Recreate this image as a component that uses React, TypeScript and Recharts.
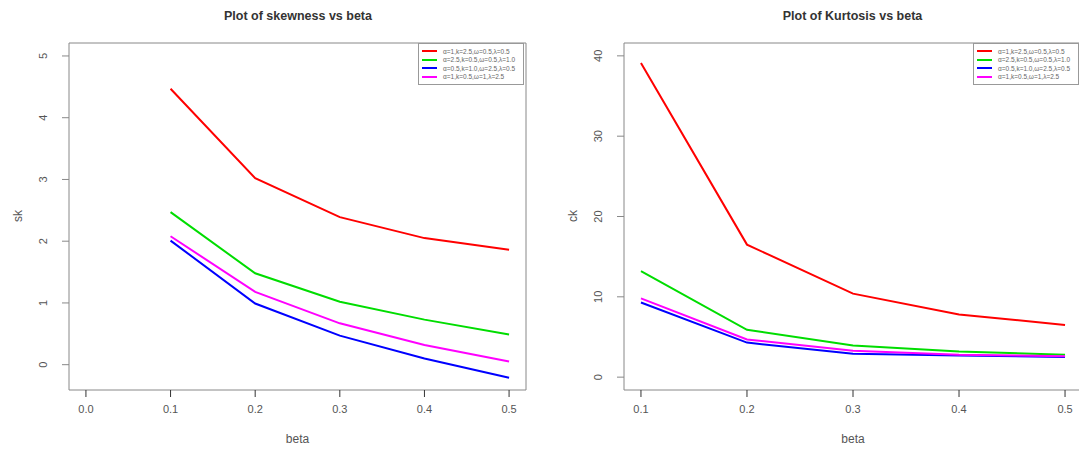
import { LineChart, Line, XAxis, YAxis, ReferenceArea, Legend, Label } from 'recharts';

const beta = [0.1, 0.2, 0.3, 0.4, 0.5];

const legendNames = [
  'α=1,k=2.5,ω=0.5,λ=0.5',
  'α=2.5,k=0.5,ω=0.5,λ=1.0',
  'α=0.5,k=1.0,ω=2.5,λ=0.5',
  'α=1,k=0.5,ω=1,λ=2.5',
];
const colors = ['#ff0000', '#00dd00', '#0000ff', '#ff00ff'];

// skewness
const skS1 = [4.47, 3.02, 2.39, 2.05, 1.86];
const skS2 = [2.47, 1.48, 1.02, 0.73, 0.49];
const skS3 = [2.01, 0.99, 0.47, 0.1, -0.21];
const skS4 = [2.08, 1.18, 0.67, 0.32, 0.05];

// kurtosis
const ckS1 = [39.1, 16.5, 10.4, 7.8, 6.5];
const ckS2 = [13.2, 5.9, 3.95, 3.2, 2.8];
const ckS3 = [9.3, 4.3, 2.9, 2.7, 2.5];
const ckS4 = [9.8, 4.7, 3.3, 2.8, 2.6];

const skTicksX = [0, 0.1, 0.2, 0.3, 0.4, 0.5];
const skTicksY = [0, 1, 2, 3, 4, 5];
const ckTicksX = [0.1, 0.2, 0.3, 0.4, 0.5];
const ckTicksY = [0, 10, 20, 30, 40];

const FONT = 'Liberation Sans, Arial, sans-serif';

function rows(series: number[][]) {
  return beta.map((b, i) => ({
    beta: b, s1: series[0][i], s2: series[1][i], s3: series[2][i], s4: series[3][i],
  }));
}

const skData = rows([skS1, skS2, skS3, skS4]);
const ckData = rows([ckS1, ckS2, ckS3, ckS4]);

const YTick = ({ x, y, payload }: any) => {
  const tx = x - 13;
  return (
    <text x={tx} y={y} transform={`rotate(-90 ${tx} ${y})`} textAnchor="middle"
      fontSize={11} fill="#555" fontFamily={FONT}>
      {payload.value}
    </text>
  );
};

const LegendBox = ({ payload }: any) => {
  const items = [...(payload || [])].sort(
    (a: any, b: any) => legendNames.indexOf(a.value) - legendNames.indexOf(b.value));
  return (
    <div style={{ border: '1px solid #999', background: '#fff', padding: '3px 8px 3px 3px', fontFamily: FONT }}>
      {items.map((p: any) => (
        <div key={p.value} style={{ display: 'flex', alignItems: 'center', height: 8.5 }}>
          <span style={{ width: 15, height: 2, background: p.color, marginRight: 6 }} />
          <span style={{ fontSize: 6.5, color: '#666', whiteSpace: 'nowrap' }}>{p.value}</span>
        </div>
      ))}
    </div>
  );
};

function Panel({ data, xDomain, yDomain, xTicks, yTicks, yLabel, width, mRight, legendLeft }: any) {
  return (
    <LineChart width={width} height={450} data={data} margin={{ top: 43, right: mRight, left: 0, bottom: 0 }}>
      <ReferenceArea x1={xDomain[0]} x2={xDomain[1]} y1={yDomain[0]} y2={yDomain[1]}
        fill="none" fillOpacity={0} stroke="#888" strokeWidth={1} />
      <XAxis dataKey="beta" type="number" domain={xDomain} ticks={xTicks} allowDataOverflow
        tickFormatter={(v) => v.toFixed(1)} axisLine={false} tickSize={7} tickMargin={8}
        tickLine={{ stroke: '#333' }} height={60}
        tick={{ fontSize: 11, fill: '#555', fontFamily: FONT }}>
        <Label value="beta" position="insideBottom" offset={7} fontSize={12} fill="#555" fontFamily={FONT} />
      </XAxis>
      <YAxis type="number" domain={yDomain} ticks={yTicks} allowDataOverflow width={69}
        axisLine={false} tickSize={7} tickMargin={2} tickLine={{ stroke: '#888' }} tick={<YTick />}>
        <Label content={() => (
          <text x={22} y={216} transform="rotate(-90 22 216)" textAnchor="middle"
            fontSize={12} fill="#555" fontFamily={FONT}>{yLabel}</text>
        )} />
      </YAxis>
      <Legend content={<LegendBox />} layout="horizontal" verticalAlign="middle" align="center"
        wrapperStyle={{ position: 'absolute', left: legendLeft, top: 43, width: 'auto', height: 'auto' }} />
      {['s1', 's2', 's3', 's4'].map((k, i) => (
        <Line key={k} dataKey={k} name={legendNames[i]} stroke={colors[i]} strokeWidth={2}
          dot={false} isAnimationActive={false} />
      ))}
    </LineChart>
  );
}

export default function App() {
  return (
    <div style={{ position: 'absolute', left: 0, top: 0, width: 1079, height: 450, overflow: 'hidden', background: '#fff', fontFamily: FONT }}>
      <div style={{ position: 'absolute', left: 0, top: 0 }}>
        <Panel data={skData} xDomain={[-0.02, 0.52]} yDomain={[-0.41, 5.21]} xTicks={skTicksX}
          yTicks={skTicksY} yLabel="sk" width={560} mRight={34} legendLeft={418} />
      </div>
      <div style={{ position: 'absolute', left: 555, top: 0 }}>
        <Panel data={ckData} xDomain={[0.084, 0.516]} yDomain={[-1.6, 41.6]} xTicks={ckTicksX}
          yTicks={ckTicksY} yLabel="ck" width={535} mRight={8} legendLeft={418} />
      </div>
      <div style={{ position: 'absolute', left: 0, width: 596, top: 9, textAlign: 'center', fontWeight: 'bold', fontSize: 12.5, color: '#333' }}>
        Plot of skewness vs beta
      </div>
      <div style={{ position: 'absolute', left: 555, width: 595, top: 9, textAlign: 'center', fontWeight: 'bold', fontSize: 12.5, color: '#333' }}>
        Plot of Kurtosis vs beta
      </div>
    </div>
  );
}
